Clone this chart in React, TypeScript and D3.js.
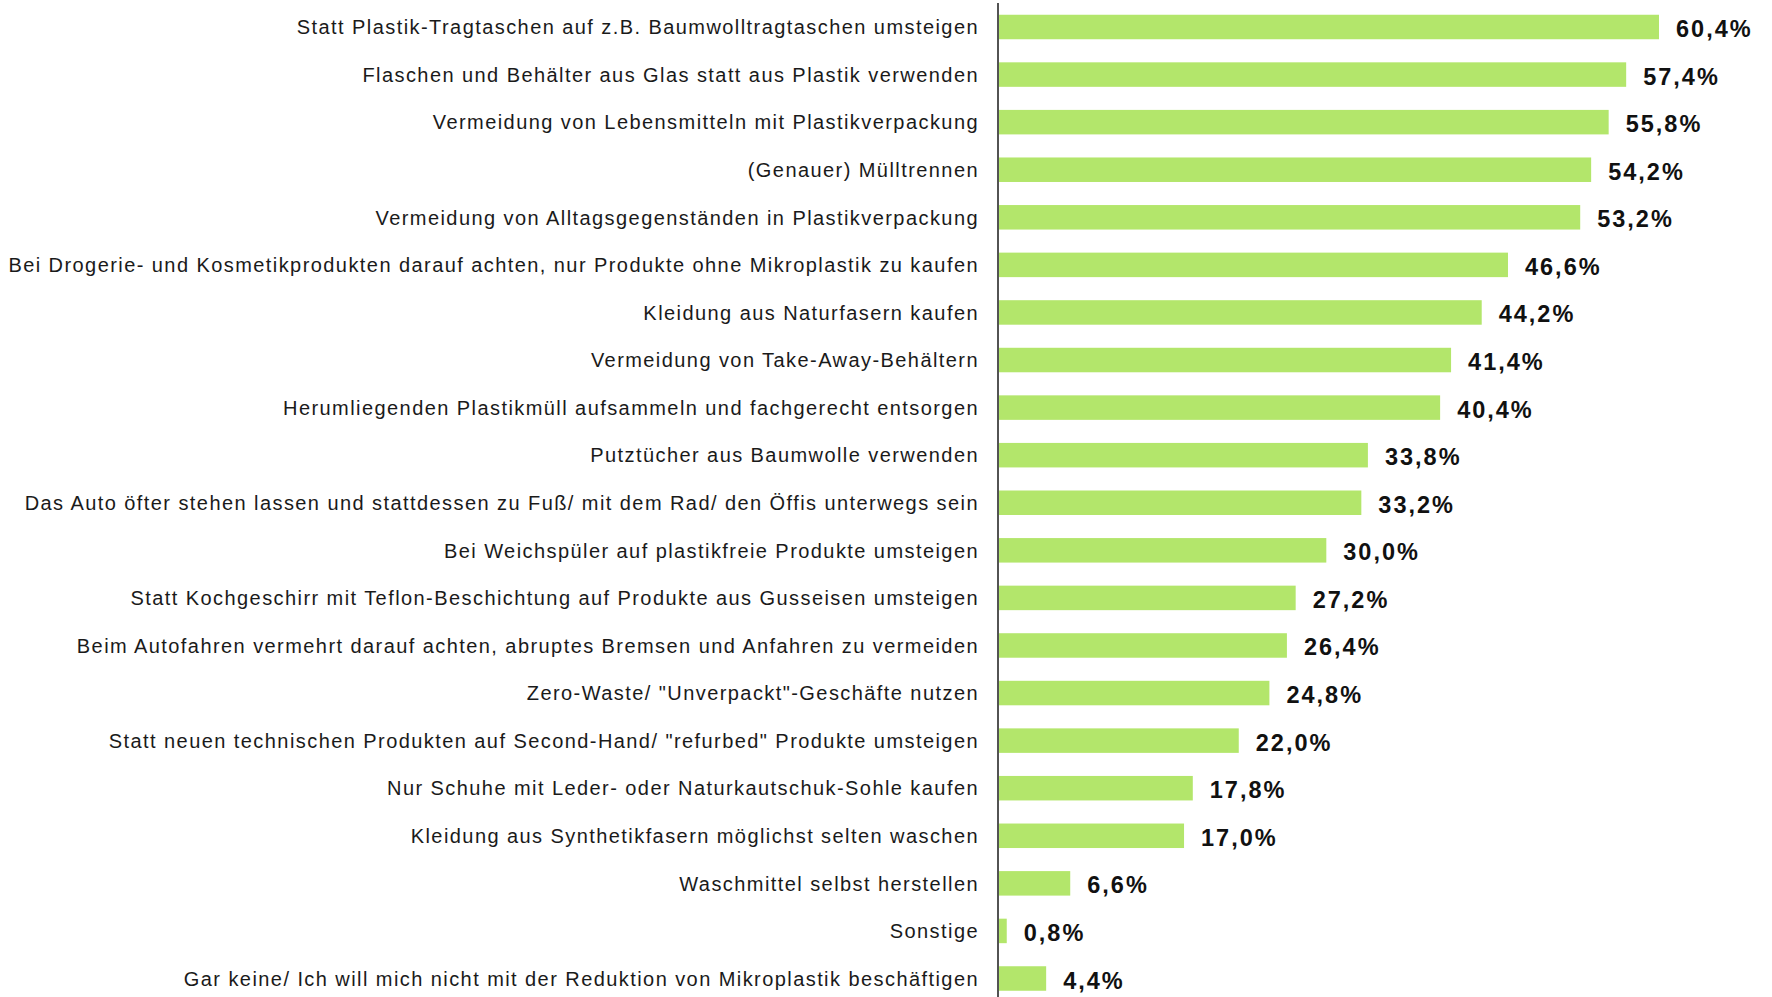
import React from 'react';
import * as d3 from 'd3';

const categories = [
  'Statt Plastik-Tragtaschen auf z.B. Baumwolltragtaschen umsteigen',
  'Flaschen und Behälter aus Glas statt aus Plastik verwenden',
  'Vermeidung von Lebensmitteln mit Plastikverpackung',
  '(Genauer) Mülltrennen',
  'Vermeidung von Alltagsgegenständen in Plastikverpackung',
  'Bei Drogerie- und Kosmetikprodukten darauf achten, nur Produkte ohne Mikroplastik zu kaufen',
  'Kleidung aus Naturfasern kaufen',
  'Vermeidung von Take-Away-Behältern',
  'Herumliegenden Plastikmüll aufsammeln und fachgerecht entsorgen',
  'Putztücher aus Baumwolle verwenden',
  'Das Auto öfter stehen lassen und stattdessen zu Fuß/ mit dem Rad/ den Öffis unterwegs sein',
  'Bei Weichspüler auf plastikfreie Produkte umsteigen',
  'Statt Kochgeschirr mit Teflon-Beschichtung auf Produkte aus Gusseisen umsteigen',
  'Beim Autofahren vermehrt darauf achten, abruptes Bremsen und Anfahren zu vermeiden',
  'Zero-Waste/ "Unverpackt"-Geschäfte nutzen',
  'Statt neuen technischen Produkten auf Second-Hand/ "refurbed" Produkte umsteigen',
  'Nur Schuhe mit Leder- oder Naturkautschuk-Sohle kaufen',
  'Kleidung aus Synthetikfasern möglichst selten waschen',
  'Waschmittel selbst herstellen',
  'Sonstige',
  'Gar keine/ Ich will mich nicht mit der Reduktion von Mikroplastik beschäftigen',
];

const values = [
  60.4, 57.4, 55.8, 54.2, 53.2, 46.6, 44.2, 41.4, 40.4, 33.8, 33.2, 30.0, 27.2,
  26.4, 24.8, 22.0, 17.8, 17.0, 6.6, 0.8, 4.4,
];

const width = 1772;
const height = 997;
const axisX = 998;

const fmt = (v: number) => v.toFixed(1).replace('.', ',') + '%';

export default function App() {
  const x = d3.scaleLinear().domain([0, 60.4]).range([axisX, 1659]);
  const y = d3.scalePoint<string>().domain(categories).range([27, 978.5]);
  const barH = y.step() * 0.515;

  return (
    <svg
      width={width}
      height={height}
      style={{ position: 'absolute', left: 0, top: 0, background: '#fff' }}
      fontFamily="'Liberation Sans', Arial, sans-serif"
    >
      {/* bars */}
      <g fill="#b3e66b">
        {categories.map((c, i) => (
          <rect
            key={c}
            x={x(0) + 1}
            y={(y(c) as number) - barH / 2}
            width={x(values[i]) - x(0) - 1}
            height={barH}
          />
        ))}
      </g>

      {/* category labels */}
      <g fontSize={20} fill="#1a1a1a" textAnchor="end" letterSpacing={1.43}>
        {categories.map((c) => (
          <text key={c} x={axisX - 19} y={y(c) as number} dy="0.36em">
            {c}
          </text>
        ))}
      </g>

      {/* value labels */}
      <g fontSize={23.5} fontWeight="bold" fill="#111" letterSpacing={2}>
        {categories.map((c, i) => (
          <text key={c} x={x(values[i]) + 17} y={(y(c) as number) + 10}>
            {fmt(values[i])}
          </text>
        ))}
      </g>

      {/* vertical axis line */}
      <line x1={axisX} x2={axisX} y1={3} y2={height} stroke="#1a1a1a" strokeWidth={1.5} />
    </svg>
  );
}
